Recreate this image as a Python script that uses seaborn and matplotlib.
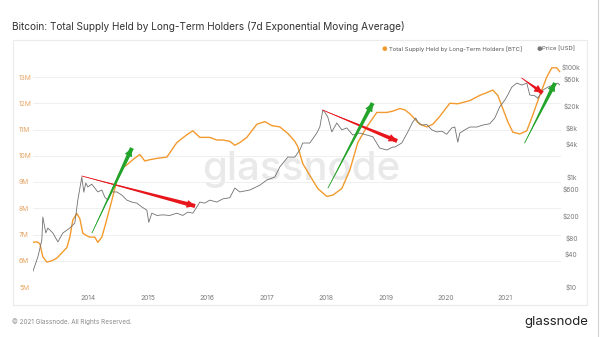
import numpy as np
import pandas as pd
import matplotlib
matplotlib.use("Agg")
import matplotlib.pyplot as plt
import matplotlib.dates as mdates
from matplotlib.patches import FancyArrowPatch, Rectangle
from matplotlib.lines import Line2D
import seaborn as sns

sns.set_style("white")
plt.rcParams["font.family"] = ["Inter", "DejaVu Sans"]

# Long-term holder supply, 7d EMA (millions of BTC), sampled by decimal year
lth_year = [2013.077, 2013.144, 2013.195, 2013.245, 2013.312, 2013.396, 2013.480, 2013.564,
            2013.648, 2013.698, 2013.748, 2013.815, 2013.866, 2013.916, 2013.983, 2014.034,
            2014.117, 2014.168, 2014.235, 2014.285, 2014.403, 2014.503, 2014.587, 2014.654,
            2014.755, 2014.872, 2014.956, 2015.040, 2015.158, 2015.326, 2015.493, 2015.661,
            2015.762, 2015.879, 2016.047, 2016.164, 2016.265, 2016.383, 2016.466, 2016.550,
            2016.668, 2016.836, 2016.970, 2017.087, 2017.221, 2017.356, 2017.473, 2017.523,
            2017.607, 2017.725, 2017.859, 2018.010, 2018.111, 2018.262, 2018.396, 2018.530,
            2018.681, 2018.849, 2019.017, 2019.117, 2019.235, 2019.319, 2019.403, 2019.570,
            2019.688, 2019.789, 2019.906, 2020.074, 2020.208, 2020.409, 2020.577, 2020.711,
            2020.795, 2020.879, 2020.963, 2021.047, 2021.131, 2021.248, 2021.366, 2021.466,
            2021.584, 2021.701, 2021.785, 2021.869, 2021.919]
lth_supply = [6.70, 6.72, 6.65, 6.15, 5.95, 6.00, 6.10, 6.30,
              6.50, 6.90, 7.55, 7.80, 7.60, 7.05, 6.95, 6.90,
              6.90, 6.70, 6.90, 7.30, 8.30, 9.20, 9.55, 9.65,
              9.85, 10.05, 9.80, 9.85, 9.90, 9.95, 10.50, 10.80,
              10.95, 10.70, 10.70, 10.60, 10.60, 10.55, 10.40, 10.50,
              10.70, 11.20, 11.30, 11.15, 11.10, 10.85, 10.55, 10.35,
              9.70, 9.25, 8.75, 8.45, 8.50, 8.75, 9.45, 10.50,
              11.10, 11.65, 11.65, 11.70, 11.80, 11.75, 11.60, 11.20,
              11.10, 11.20, 11.50, 12.00, 11.98, 12.10, 12.30, 12.42,
              12.50, 12.30, 11.80, 11.30, 10.90, 10.83, 10.95, 11.55,
              12.30, 13.00, 13.35, 13.35, 13.20]

# Bitcoin price (USD), sampled by decimal year
price_year = [2013.077, 2013.161, 2013.228, 2013.245, 2013.295, 2013.329, 2013.413, 2013.497,
              2013.581, 2013.698, 2013.782, 2013.832, 2013.899, 2013.933, 2013.966, 2014.000,
              2014.067, 2014.117, 2014.168, 2014.235, 2014.285, 2014.336, 2014.403, 2014.487,
              2014.570, 2014.654, 2014.738, 2014.822, 2014.906, 2014.990, 2015.023, 2015.074,
              2015.158, 2015.258, 2015.376, 2015.493, 2015.594, 2015.678, 2015.762, 2015.829,
              2015.879, 2015.963, 2016.047, 2016.164, 2016.265, 2016.383, 2016.466, 2016.550,
              2016.718, 2016.886, 2017.003, 2017.138, 2017.221,
              2017.356, 2017.473, 2017.557, 2017.607, 2017.725, 2017.842, 2017.893, 2017.943,
              2017.977, 2018.027, 2018.094, 2018.178, 2018.262, 2018.346, 2018.446, 2018.564,
              2018.681, 2018.782, 2018.899, 2019.017, 2019.117, 2019.151, 2019.268, 2019.369,
              2019.453, 2019.503, 2019.537, 2019.604, 2019.688, 2019.772, 2019.856, 2019.940,
              2020.023, 2020.107, 2020.158, 2020.208, 2020.242, 2020.326, 2020.409, 2020.527,
              2020.628, 2020.745, 2020.829, 2020.913, 2020.997, 2021.047, 2021.114, 2021.198,
              2021.282, 2021.366, 2021.416, 2021.500, 2021.550, 2021.634, 2021.718, 2021.802,
              2021.886, 2021.919]
price_usd = [19, 35, 71, 187, 96, 118, 96, 66,
             96, 118, 146, 380, 1000, 530, 780, 660,
             740, 630, 535, 580, 430, 380, 535, 535,
             470, 380, 350, 335, 285, 250, 150, 220,
             200, 205, 200, 220, 200, 230, 220, 285,
             350, 335, 380, 350, 400, 420, 630, 535,
             580, 710, 880, 1000, 1520,
             2300, 2300, 3100, 4150, 4150, 6300, 8100, 16500,
             15000, 12300, 6600, 9600, 7200, 7800, 5800, 6300,
             5800, 5400, 3350, 3100, 3500, 3500, 4150, 6600,
             10000, 11800, 10000, 8800, 9000, 7200, 6600, 6800,
             6000, 7800, 8100, 4300, 6300, 7200, 8100, 8100,
             8800, 9300, 11800, 19000, 25000, 31000, 43000, 51000,
             47000, 51000, 31000, 30000, 27000, 38000, 43000, 47000,
             51000, 47000]

supply_ticks = [5, 6, 7, 8, 9, 10, 11, 12, 13]
supply_labels = ["5M", "6M", "7M", "8M", "9M", "10M", "11M", "12M", "13M"]
price_ticks = [10, 40, 80, 200, 600, 1000, 4000, 8000, 20000, 60000, 100000]
price_labels = ["$10", "$40", "$80", "$200", "$600", "$1k", "$4k", "$8k", "$20k", "$60k", "$100k"]
year_ticks = [2014, 2015, 2016, 2017, 2018, 2019, 2020, 2021]

# Trend arrows drawn on the price scale: (start year, start price, end year, end price)
red_arrows = [(2013.90, 1042, 2015.80, 297),
              (2017.94, 16500, 2019.19, 4520),
              (2021.28, 63100, 2021.63, 33700)]
green_arrows = [(2014.07, 96, 2014.74, 3365),
                (2018.03, 631, 2018.78, 22100),
                (2021.33, 4150, 2021.84, 51200)]


def to_date(years):
    years = np.asarray(years, dtype=float)
    return pd.Timestamp("2014-01-01") + pd.to_timedelta((years - 2014) * 365.25, unit="D")


ORANGE = "#f39a2e"
GREY_LINE = "#707070"
RED = "#e8161b"
GREEN = "#22a32a"

lth_df = pd.DataFrame({"date": to_date(lth_year), "supply": lth_supply})
price_df = pd.DataFrame({"date": to_date(price_year), "price": price_usd})

fig = plt.figure(figsize=(6.0, 3.37), dpi=100)
fig.patch.set_facecolor("white")

# card outline around the chart area
card = Rectangle((12.5 / 600, 1 - 305 / 337), 574 / 600, 265 / 337, transform=fig.transFigure,
                 facecolor="none", edgecolor="#ebebeb", linewidth=0.8, zorder=-10)
fig.patches.append(card)
fig.add_artist(Line2D([597.5 / 600, 597.5 / 600], [0, 1], transform=fig.transFigure,
                      color="#d0d0d0", linewidth=0.8, zorder=-10))

ax = fig.add_axes([33 / 600, 1 - 287 / 337, 528 / 600, 225 / 337])
ax.set_facecolor("none")
ax2 = ax.twinx()

sns.lineplot(data=lth_df, x="date", y="supply", ax=ax, color=ORANGE, linewidth=1.0, zorder=3)
sns.lineplot(data=price_df, x="date", y="price", ax=ax2, color=GREY_LINE, linewidth=0.6, zorder=3)

x0, x1 = to_date([2013.08, 2021.94])
ax.set_xlim(x0, x1)
ax.set_ylim(5, 5 + 225 / 26.25)
ax2.set_yscale("log")
ax2.set_ylim(10, 10 ** (1 + 225 / 55))

ax.set_yticks(supply_ticks)
ax.set_yticklabels(supply_labels)
ax2.set_yticks(price_ticks)
ax2.set_yticklabels(price_labels)
ax2.yaxis.set_minor_locator(matplotlib.ticker.NullLocator())
ax.set_xticks(to_date(year_ticks))
ax.set_xticklabels([str(y) for y in year_ticks])

ax.tick_params(axis="y", length=0, labelsize=4.8, labelcolor="#e6a462", pad=10)
ax2.tick_params(axis="y", length=0, labelsize=4.8, labelcolor="#7a7a7a", pad=7.5)
ax.tick_params(axis="x", length=0, labelsize=4.8, labelcolor="#7a7a7a", pad=6)
for lab in ax.get_yticklabels():
    lab.set_horizontalalignment("left")
    lab.set_x(0)
for lab in ax2.get_yticklabels():
    lab.set_horizontalalignment("center")

ax.grid(axis="y", color="#efefef", linewidth=0.7)
ax.grid(axis="x", visible=False)
ax2.grid(False)
ax.set_xlabel("")
ax.set_ylabel("")
ax2.set_ylabel("")
for a in (ax, ax2):
    for s in a.spines.values():
        s.set_visible(False)

# watermark
ax.text(0.508, 0.52, "glassnode", transform=ax.transAxes, fontsize=29, color="#e9e9e9",
        ha="center", va="center", fontweight="medium", zorder=0)

# trend arrows: a tapered body plus a filled head
def draw_arrow(a, x0y, y0p, x1y, y1p, color):
    start = (mdates.date2num(to_date([x0y])[0]), y0p)
    end = (mdates.date2num(to_date([x1y])[0]), y1p)
    body = FancyArrowPatch(end, start, arrowstyle="wedge,tail_width=3.0,shrink_factor=0.5",
                           color=color, linewidth=0, zorder=6, shrinkA=0, shrinkB=0,
                           mutation_scale=1)
    a.add_patch(body)
    head = FancyArrowPatch(start, end, arrowstyle="-|>,head_length=5,head_width=2.4",
                           color=color, linewidth=0.6, zorder=6, shrinkA=0, shrinkB=0,
                           mutation_scale=1)
    a.add_patch(head)


for r in red_arrows:
    draw_arrow(ax2, *r, RED)
for g in green_arrows:
    draw_arrow(ax2, *g, GREEN)

# title, legend and footer
fig.text(12.5 / 600, 1 - 26 / 337, "Bitcoin: Total Supply Held by Long-Term Holders (7d Exponential Moving Average)",
         fontsize=7.25, color="#333333", ha="left", va="center")
fig.text(384 / 600, 1 - 49 / 337, "\u25CF", fontsize=4.5, color=ORANGE, ha="center", va="center")
fig.text(389 / 600, 1 - 49 / 337, "Total Supply Held by Long-Term Holders [BTC]", fontsize=4.3,
         color="#555555", ha="left", va="center")
fig.text(539 / 600, 1 - 49 / 337, "\u25CF", fontsize=4.5, color="#777777", ha="center", va="center")
fig.text(542.5 / 600, 1 - 49 / 337, "Price [USD]", fontsize=4.3, color="#555555", ha="left", va="center")
fig.text(12.5 / 600, 1 - 322 / 337, "\u00A9 2021 Glassnode. All Rights Reserved.", fontsize=4.6,
         color="#8a8a8a", ha="left", va="center")
fig.text(588 / 600, 1 - 322 / 337, "glassnode", fontsize=9.5, color="#222222", ha="right", va="center")

fig.savefig("out.png", dpi=100, facecolor="white")
